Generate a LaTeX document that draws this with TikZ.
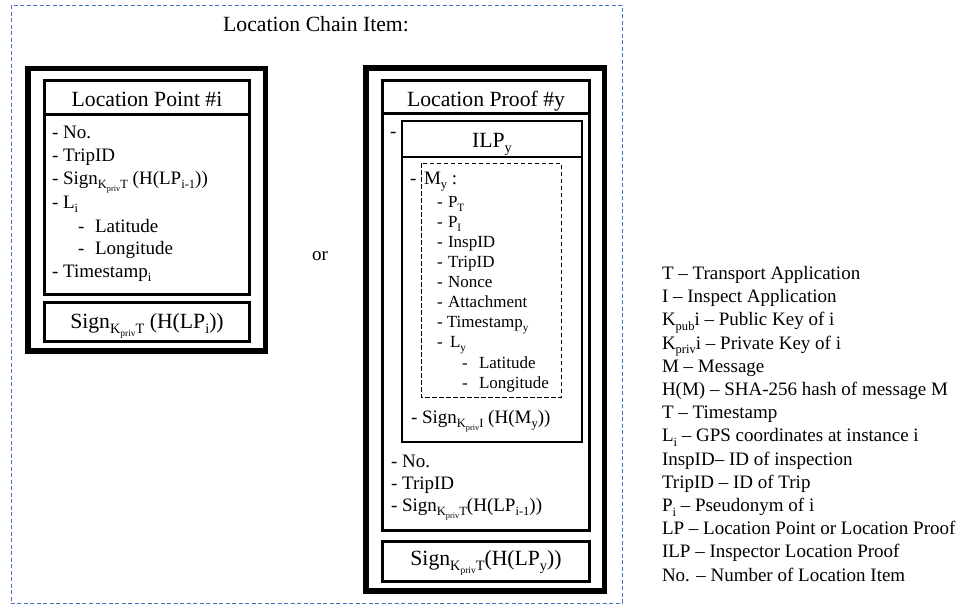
\documentclass[tikz,border=0pt]{standalone}
\usepackage{fontspec}
\setmainfont{Liberation Serif}
\definecolor{dashblue}{RGB}{68,114,196}
\makeatletter
\newcommand{\sbs}[1]{\raisebox{-0.24em}{\fontsize{\strip@pt\dimexpr\f@size pt*66/100\relax}{0}\selectfont #1}}
\makeatother
\newcommand{\kpriv}[1]{\sbs{K\sbs{priv}#1}}
\begin{document}
\begin{tikzpicture}[x=1pt,y=-1pt,
  every node/.style={inner sep=0pt, outer sep=0pt},
  big/.style={font=\fontsize{21.7}{26}\selectfont, anchor=base},
  body/.style={font=\fontsize{19}{23}\selectfont, anchor=base west},
  small/.style={font=\fontsize{17}{20}\selectfont, anchor=base west},
  heavy/.style={draw, line width=5.5pt},
  medium/.style={draw, line width=3pt},
  thinbox/.style={draw, line width=1.2pt},
  bluedash/.style={draw=dashblue, line width=1pt, dash pattern=on 4pt off 2.5pt},
  mdash/.style={draw, line width=1pt, dash pattern=on 4.5pt off 2.5pt}]
\useasboundingbox (0,0) rectangle (964,608);
\fill[white] (0,0) rectangle (964,608);
% outer dashed frame
\draw[bluedash] (11,5) rectangle (622,603);
\node[big] (title) at (316,31.5) {Location Chain Item:};

% ---------------- Left: Location Point ----------------
\draw[heavy] (28,68.5) rectangle (265.5,351);
\draw[medium] (44,80.5) rectangle (249.5,294.5);
\draw[medium] (44,114) -- (249.5,114);
\draw[medium] (44,302) rectangle (249.5,341.5);
\node[big] (lphead) at (147,106) {Location Point \#i};
\node[body] (lp1) at (52,138) {- No.};
\node[body] (lp2) at (52,161) {- TripID};
\node[body] (lp3) at (52,184) {- Sign\kpriv{T} (H(LP\sbs{i-1}))};
\node[body] (lp4) at (52,208) {- L\sbs{i}};
\node[body] (lp5d) at (78,232) {-};
\node[body] (lp5) at (95,232) {Latitude};
\node[body] (lp6d) at (78,254) {-};
\node[body] (lp6) at (95,254) {Longitude};
\node[body] (lp7) at (52,277) {- Timestamp\sbs{i}};
\node[big] (lpsign) at (147,328) {Sign\kpriv{T} (H(LP\sbs{i}))};

\node[font=\fontsize{19}{23}\selectfont, anchor=base] (or) at (320,260) {or};

% ---------------- Right: Location Proof ----------------
\draw[heavy] (366,68) rectangle (604.5,591);
\draw[medium] (382.5,80.5) rectangle (589.5,530);
\draw[medium] (382.5,113) -- (589.5,113);
\draw[medium] (382.5,541.5) rectangle (589.5,581.5);
\node[big] (prhead) at (486,106) {Location Proof \#y};
\node[body] (ilpdash) at (390,137) {-};
% ILP box
\draw[thinbox] (402,121) rectangle (582,442);
\draw[thinbox] (402,157) -- (582,157);
\node[big] (ilphead) at (492,147) {ILP\sbs{y}};
% M box
\draw[mdash] (421,163) rectangle (561,397);
\node[body] (mdashl) at (410,184) {-};
\node[body] (mhead) at (424,184) {M\sbs{y} :};
\node[small] (m1d) at (437,207) {-};
\node[small] (m1) at (448,207) {P\sbs{T}};
\node[small] (m2d) at (437,227) {-};
\node[small] (m2) at (448,227) {P\sbs{I}};
\node[small] (m3d) at (437,247) {-};
\node[small] (m3) at (448,247) {InspID};
\node[small] (m4d) at (437,267) {-};
\node[small] (m4) at (448,267) {TripID};
\node[small] (m5d) at (437,287) {-};
\node[small] (m5) at (448,287) {Nonce};
\node[small] (m6d) at (437,307) {-};
\node[small] (m6) at (448,307) {Attachment};
\node[small] (m7) at (437,327) {- Timestamp\sbs{y}};
\node[small] (m8d) at (437,347) {-};
\node[small] (m8) at (450,347) {L\sbs{y}};
\node[small] (m9d) at (462,368) {-};
\node[small] (m9) at (479,368) {Latitude};
\node[small] (m10d) at (462,388) {-};
\node[small] (m10) at (479,388) {Longitude};
\node[body] (ilpsign) at (411,423) {- Sign\kpriv{I} (H(M\sbs{y}))};
% rest of LP body
\node[body] (pr1) at (391,467) {- No.};
\node[body] (pr2) at (391,489) {- TripID};
\node[body] (pr3) at (391,511) {- Sign\kpriv{T}(H(LP\sbs{i-1}))};
\node[big] (prsign) at (486,565) {Sign\kpriv{T}(H(LP\sbs{y}))};

% ---------------- Legend ----------------
\begin{scope}[every node/.append style={body}]
\node (g1) at (662,279.5) {T – Transport Application};
\node (g2) at (662,302.7) {I – Inspect Application};
\node (g3) at (662,325.9) {K\sbs{pub}i – Public Key of i};
\node (g4) at (662,349.1) {K\sbs{priv}i – Private Key of i};
\node (g5) at (662,372.3) {M – Message};
\node (g6) at (662,395.5) {H(M) – SHA-256 hash of message M};
\node (g7) at (662,418.7) {T – Timestamp};
\node (g8) at (662,441.9) {L\sbs{i} – GPS coordinates at instance i};
\node (g9) at (662,465.1) {InspID– ID of inspection};
\node (g10) at (662,488.3) {TripID – ID of Trip};
\node (g11) at (662,511.5) {P\sbs{i} – Pseudonym of i};
\node (g12) at (662,534.7) {LP – Location Point or Location Proof};
\node (g13) at (662,557.9) {ILP – Inspector Location Proof};
\node (g14) at (662,581.1) {No. – Number of Location Item};
\end{scope}
\end{tikzpicture}
\end{document}
